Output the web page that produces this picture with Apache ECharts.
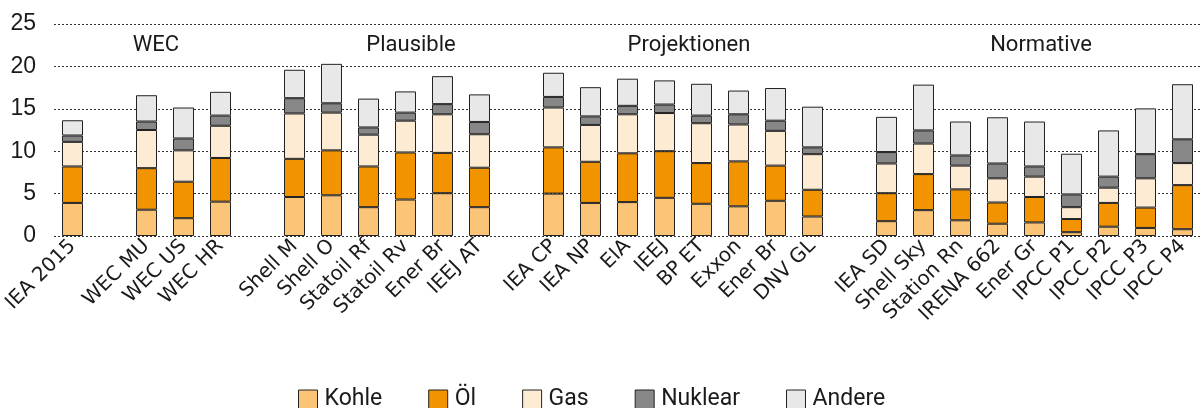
<!DOCTYPE html>
<html>
<head>
<meta charset="utf-8">
<script src="https://cdn.jsdelivr.net/npm/echarts@6/dist/echarts.min.js"></script>
<style>
  html, body { margin: 0; padding: 0; background: #fff; }
  #chart { width: 1202px; height: 408px; }
</style>
</head>
<body>
<div id="chart"></div>
<script>
// Kategorien, leere Einträge trennen die Gruppen
const categories = ['IEA 2015', '', 'WEC MU', 'WEC US', 'WEC HR', '',
  'Shell M', 'Shell O', 'Statoil Rf', 'Statoil Rv', 'Ener Br', 'IEEJ AT', '',
  'IEA CP', 'IEA NP', 'EIA', 'IEEJ', 'BP ET', 'Exxon', 'Ener Br', 'DNV GL', '',
  'IEA SD', 'Shell Sky', 'Station Rn', 'IRENA 662', 'Ener Gr', 'IPCC P1', 'IPCC P2', 'IPCC P3', 'IPCC P4']

const kohle   = [3.9, null, 3.1, 2.1, 4.05, null, 4.6, 4.8, 3.4, 4.3, 5.05, 3.4, null, 5.0, 3.9, 4.0, 4.5, 3.8, 3.5, 4.15, 2.3, null, 1.75, 3.05, 1.85, 1.45, 1.6, 0.45, 1.1, 0.95, 0.8]
const oel     = [4.3, null, 4.9, 4.3, 5.15, null, 4.5, 5.3, 4.8, 5.55, 4.75, 4.65, null, 5.45, 4.85, 5.75, 5.5, 4.8, 5.3, 4.15, 3.15, null, 3.3, 4.25, 3.65, 2.5, 3.0, 1.55, 2.8, 2.4, 5.2]
const gas     = [2.9, null, 4.5, 3.7, 3.8, null, 5.35, 4.45, 3.75, 3.75, 4.55, 3.95, null, 4.7, 4.35, 4.6, 4.5, 4.7, 4.35, 4.1, 4.2, null, 3.5, 3.6, 2.8, 2.85, 2.4, 1.4, 1.8, 3.45, 2.6]
const nuklear = [0.75, null, 1.0, 1.4, 1.2, null, 1.8, 1.1, 0.85, 0.95, 1.2, 1.45, null, 1.25, 1.0, 1.0, 1.0, 0.9, 1.2, 1.2, 0.8, null, 1.35, 1.55, 1.2, 1.75, 1.2, 1.5, 1.3, 2.85, 2.8]
const andere  = [1.8, null, 3.1, 3.65, 2.8, null, 3.35, 4.65, 3.4, 2.5, 3.3, 3.25, null, 2.85, 3.45, 3.2, 2.85, 3.75, 2.8, 3.85, 4.8, null, 4.15, 5.4, 4.0, 5.45, 5.3, 4.8, 5.45, 5.4, 6.5]

const groupLabels = ['WEC', 'Plausible', 'Projektionen', 'Normative']
const groupX = [156, 411, 689, 1041]

const yTicks = { min: 0, max: 25, interval: 5 }

const colors = ['#FBC477', '#F29400', '#FDEBD3', '#878787', '#E8E8E8']
const names = ['Kohle', 'Öl', 'Gas', 'Nuklear', 'Andere']
const values = [kohle, oel, gas, nuklear, andere]

const narrow = 'Roboto, "Liberation Sans", sans-serif'

const chart = echarts.init(document.getElementById('chart'))

const series = names.map((n, i) => ({
  name: n,
  type: 'bar',
  stack: 'total',
  barWidth: 21,
  data: values[i],
  itemStyle: { color: colors[i], borderColor: '#222', borderWidth: 1 }
}))

chart.setOption({
  animation: false,
  grid: { left: 54, top: 24, width: 1147, height: 212, containLabel: false },
  legend: {
    data: names,
    left: 293,
    top: 383,
    itemWidth: 19,
    itemHeight: 19,
    itemGap: 46,
    icon: 'rect',
    itemStyle: { borderColor: '#222', borderWidth: 1 },
    textStyle: { fontFamily: narrow, fontSize: 23, color: '#1a1a1a', padding: [0, 0, 0, 2] }
  },
  xAxis: {
    type: 'category',
    data: categories,
    axisLine: { show: false },
    axisTick: { show: false },
    axisLabel: {
      interval: 0,
      rotate: 45,
      margin: 7,
      fontFamily: 'DejaVu Sans',
      fontSize: 20,
      color: '#1a1a1a'
    }
  },
  yAxis: {
    type: 'value',
    min: yTicks.min,
    max: yTicks.max,
    interval: yTicks.interval,
    axisLine: { show: false },
    axisTick: { show: false },
    axisLabel: { fontFamily: 'Liberation Sans', fontSize: 23, color: '#1a1a1a', margin: 18 },
    splitLine: { lineStyle: { color: '#333', type: [2, 2], width: 1 } }
  },
  graphic: groupLabels.map((t, i) => ({
    type: 'text',
    x: groupX[i],
    y: 45,
    style: {
      text: t,
      align: 'center',
      verticalAlign: 'middle',
      fontFamily: narrow,
      fontSize: 22,
      fill: '#1a1a1a'
    }
  })),
  series: series
})
</script>
</body>
</html>
